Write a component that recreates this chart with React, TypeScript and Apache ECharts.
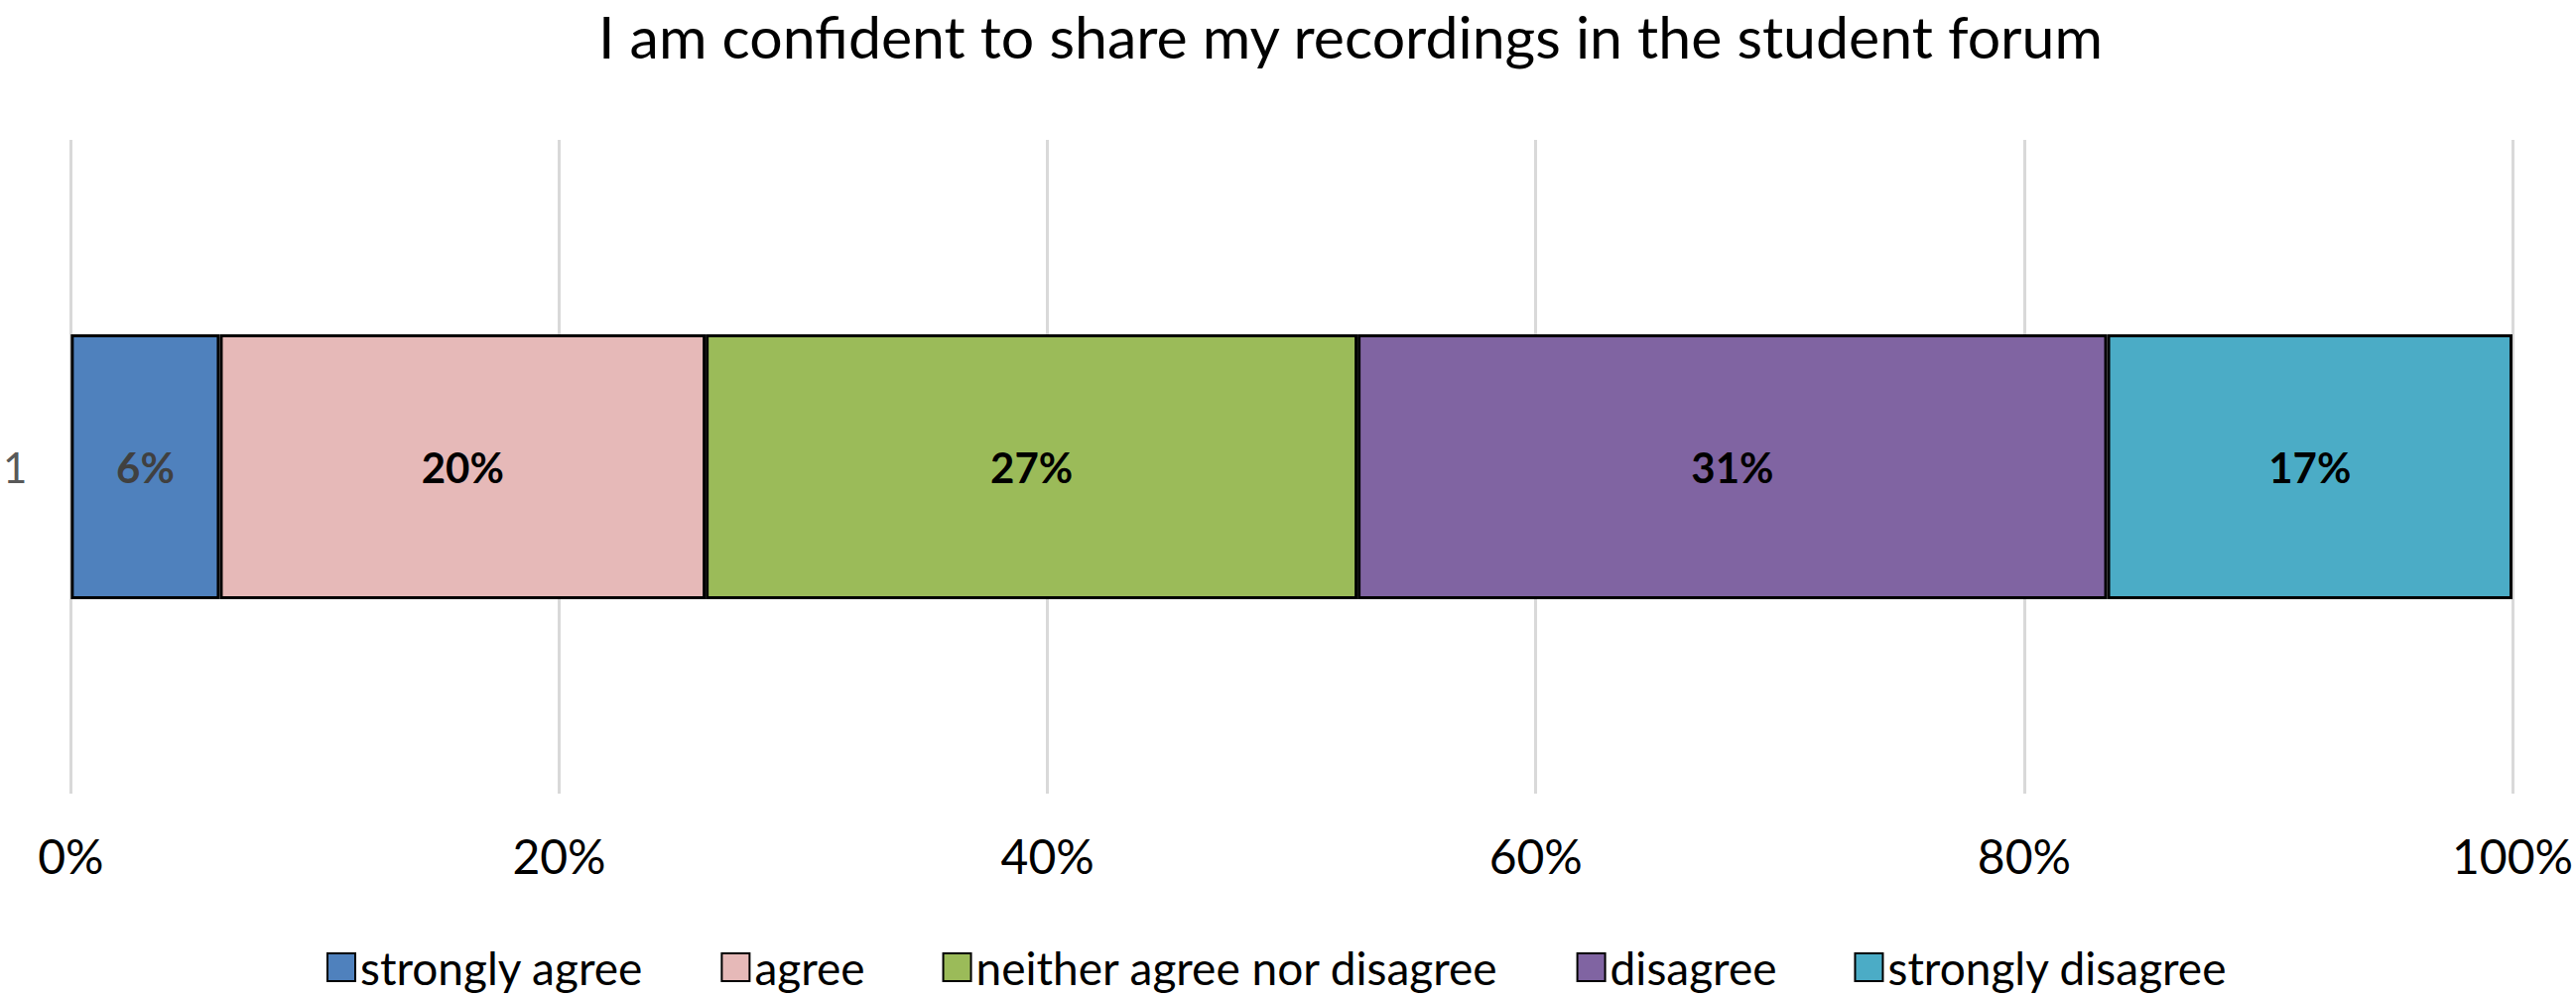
import React, { useEffect, useRef } from "react";
import * as echarts from "echarts";

const TITLE = "I am confident to share my recordings in the student forum";
const categories = ["1"];
const seriesNames = [
  "strongly agree",
  "agree",
  "neither agree nor disagree",
  "disagree",
  "strongly disagree",
];
const stronglyAgree = [6.1];
const agree = [19.9];
const neither = [26.7];
const disagree = [30.7];
const stronglyDisagree = [16.6];
const xTicks = { min: 0, max: 100, interval: 20 };

const colors = ["#4F81BD", "#E6B9B8", "#9BBB59", "#8064A2", "#4BACC6"];
const labelColors = ["#404040", "#000000", "#000000", "#000000", "#000000"];
const FONT = "Lato";

export default function App() {
  const ref = useRef<HTMLDivElement>(null);
  useEffect(() => {
    if (!ref.current) return;
    const chart = echarts.init(ref.current, null, { renderer: "svg" });
    const seriesData = [stronglyAgree, agree, neither, disagree, stronglyDisagree];
    chart.setOption({
      animation: false,
      backgroundColor: "#ffffff",
      textStyle: { fontFamily: FONT },
      title: {
        text: TITLE,
        left: 1356,
        top: 2,
        textAlign: "center",
        textStyle: { fontFamily: FONT, fontSize: 59, fontWeight: "normal", color: "#000" },
      },
      legend: {
        data: seriesNames,
        left: 324,
        top: 947,
        itemWidth: 28,
        itemHeight: 28,
        itemGap: 78,
        icon: "rect",
        textStyle: { fontFamily: FONT, fontSize: 46, color: "#000" },
      },
      grid: { left: 66, right: 61, top: 141, bottom: 205, containLabel: false },
      xAxis: {
        type: "value",
        min: xTicks.min,
        max: xTicks.max,
        interval: xTicks.interval,
        axisLine: { show: false },
        axisTick: { show: false },
        splitLine: { show: true, lineStyle: { color: "#D9D9D9", width: 3 } },
        axisLabel: {
          formatter: "{value}%",
          margin: 38,
          fontFamily: FONT,
          fontSize: 48,
          color: "#000",
        },
      },
      yAxis: {
        type: "category",
        data: categories,
        axisLine: { show: false },
        axisTick: { show: false },
        splitLine: { show: false },
        axisLabel: { margin: 44, fontFamily: FONT, fontSize: 42, color: "#595959" },
      },
      series: seriesNames.map((name, i) => ({
        name,
        type: "bar",
        stack: "total",
        barWidth: 267,
        data: seriesData[i],
        itemStyle: { color: colors[i], borderColor: "#000", borderWidth: 3 },
        label: {
          show: true,
          position: "inside",
          formatter: (p: any) => Math.round(p.value) + "%",
          fontFamily: FONT,
          fontSize: 42,
          fontWeight: "bold",
          color: labelColors[i],
        },
      })),
    });
    return () => chart.dispose();
  }, []);
  return (
    <div
      ref={ref}
      style={{ position: "absolute", left: 0, top: 0, width: 2596, height: 1005 }}
    />
  );
}
